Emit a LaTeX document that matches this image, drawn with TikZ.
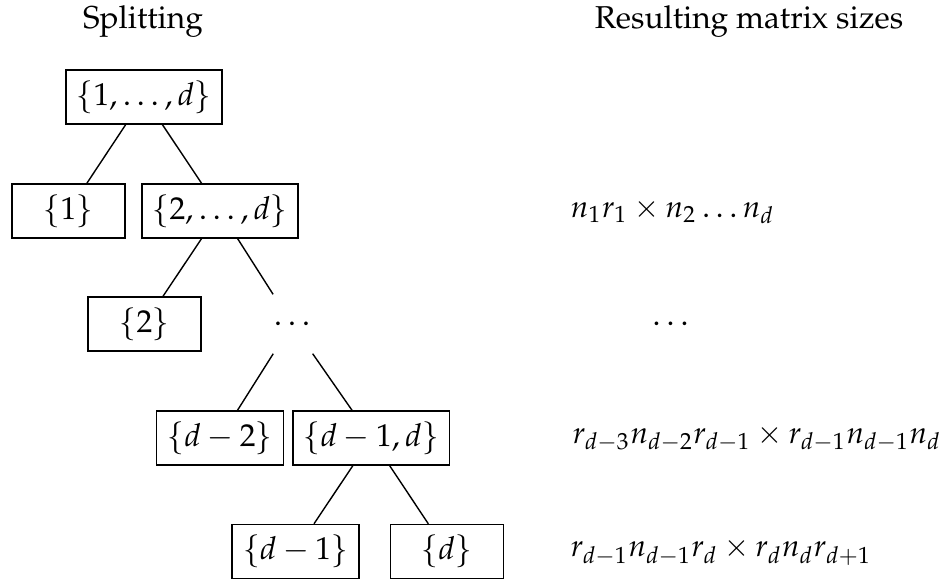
\documentclass[tikz,border=0pt]{standalone}
\usepackage[T1]{fontenc}
\usepackage{mathpazo}
\tikzset{
    every node/.style={font=\fontsize{9pt}{11pt}\selectfont},
    setbox/.style={draw, minimum width=1.13cm, minimum height=0.54cm, inner sep=3pt},
    setdots/.style={minimum width=1.13cm, minimum height=0.58cm},
    sizelabel/.style={anchor=west, inner sep=0pt, font=\fontsize{8.75pt}{11pt}\selectfont}
}
\begin{document}
\begin{tikzpicture}
            \useasboundingbox (0,0) rectangle (9.51,-5.81);
            \node (headleft) at (1.43,-0.22) {Splitting};
            \node (headright) at (7.49,-0.22) {Resulting matrix sizes};
            \node[setbox] (root) at (1.44,-0.97) {$\{1,\dots,d\}$};
            \node[setbox] (s1) at (0.685,-2.11) {$\{1\}$};
            \node[setbox] (s2d) at (2.20,-2.11) {$\{2,\dots,d\}$};
            \node[setbox] (s2) at (1.445,-3.24) {$\{2\}$};
            \node[setdots] (sdots) at (2.92,-3.24) {$\dots$};
            \node[setbox] (sdm2) at (2.20,-4.38) {$\{d-2\}$};
            \node[setbox] (sdm1d) at (3.713,-4.38) {$\{d-1,d\}$};
            \node[setbox] (sdm1) at (2.955,-5.515) {$\{d-1\}$};
            \node[setbox] (sd) at (4.467,-5.515) {$\{d\}$};
            \draw (root) -- (s1);
            \draw (root) -- (s2d);
            \draw (s2d) -- (s2);
            \draw (s2d) -- (sdots);
            \draw (sdots) -- (sdm2);
            \draw (sdots) -- (sdm1d);
            \draw (sdm1d) -- (sdm1);
            \draw (sdm1d) -- (sd);
            \node[sizelabel] (size1) at (5.70,-2.11) {$n_1r_1\times n_2\dots n_d$};
            \node (sizedots) at (6.705,-3.24) {$\dots$};
            \node[sizelabel] (size3) at (5.72,-4.38) {$r_{d-3}n_{d-2}r_{d-1}\times r_{d-1}n_{d-1}n_d$};
            \node[sizelabel] (size4) at (5.70,-5.515) {$r_{d-1}n_{d-1}r_d\times r_dn_dr_{d+1}$};
        \end{tikzpicture}
\end{document}
